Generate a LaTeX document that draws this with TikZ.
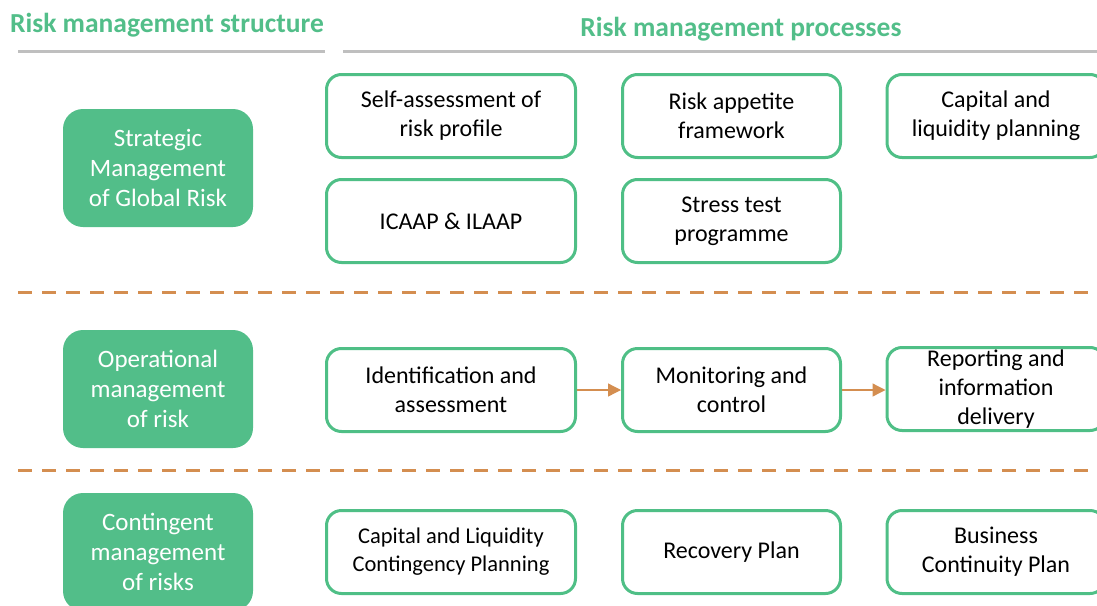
\documentclass[tikz,border=0pt]{standalone}
\usepackage{fontspec}
\setmainfont{Carlito}
\usetikzlibrary{arrows.meta}
\definecolor{rgreen}{HTML}{52BE89}
\definecolor{ogreen}{HTML}{4FBF86}
\definecolor{rgray}{HTML}{BFBFBF}
\definecolor{rorange}{HTML}{D48E50}
\tikzset{
  every node/.style={font=\fontsize{24}{29}\selectfont, align=center, inner sep=0pt},
  procbox/.style={draw=ogreen, line width=3pt, fill=white, rounded corners=15pt, minimum height=83pt},
  structbox/.style={fill=rgreen, rounded corners=20pt, minimum width=190pt, minimum height=118pt, text=white, font=\fontsize{25}{30}\selectfont},
  titletext/.style={text=rgreen, font=\fontsize{27.5}{32}\selectfont\bfseries},
  ruleline/.style={draw=rgray, line width=3pt},
  sepline/.style={draw=rorange, line width=3pt, dash pattern=on 14pt off 10pt},
  flowarrow/.style={draw=rorange, line width=1.3pt, -{Triangle[length=13pt,width=13pt]}}
}
\begin{document}
\begin{tikzpicture}[x=1pt,y=-1pt]
\useasboundingbox (0,0) rectangle (1097,605);
\clip (0,0) rectangle (1097,605);
% titles
\node[titletext] (t1) at (167,25) {Risk management structure};
\node[titletext] (t2) at (741,29) {Risk management processes};
\coordinate (l1a) at (18,51); \coordinate (l1b) at (325,51);
\coordinate (l2a) at (343,51); \coordinate (l2b) at (1097,51);
\draw[ruleline] (l1a) -- (l1b);
\draw[ruleline] (l2a) -- (l2b);
% separators
\coordinate (s1a) at (18,292); \coordinate (s1b) at (1097,292);
\coordinate (s2a) at (18,470); \coordinate (s2b) at (1097,470);
\draw[sepline] (s1a) -- (s1b);
\draw[sepline] (s2a) -- (s2b);
% structure boxes
\node[structbox] (g1) at (158,168) {Strategic\\Management\\of Global Risk};
\node[structbox] (g2) at (158,389) {Operational\\management\\of risk};
\node[structbox] (g3) at (158,552) {Contingent\\management\\of risks};
% process boxes
\node[procbox, minimum width=249pt] (a) at (451,116) {Self-assessment of\\risk profile};
\node[procbox, minimum width=218pt] (b) at (731.5,116) {Risk appetite\\framework};
\node[procbox, minimum width=218pt] (c) at (996,116) {Capital and\\liquidity planning};
\node[procbox, minimum width=249pt] (d) at (451,221) {ICAAP \& ILAAP};
\node[procbox, minimum width=218pt] (e) at (731.5,221) {Stress test\\programme};
\node[procbox, minimum width=249pt] (f) at (451,390) {Identification and\\assessment};
\node[procbox, minimum width=218pt] (g) at (731.5,390) {Monitoring and\\control};
\node[procbox, minimum width=218pt] (h) at (996,389) {Reporting and\\information\\delivery};
\node[procbox, minimum width=249pt, font=\fontsize{22.5}{28}\selectfont] (i) at (451,552) {Capital and Liquidity\\Contingency Planning};
\node[procbox, minimum width=218pt] (j) at (731.5,552) {Recovery Plan};
\node[procbox, minimum width=218pt] (k) at (996,552) {Business\\Continuity Plan};
% arrows
\draw[flowarrow] (f.east) -- (g.west);
\draw[flowarrow] (g.east) -- (h.west |- g.east);
\end{tikzpicture}
\end{document}
